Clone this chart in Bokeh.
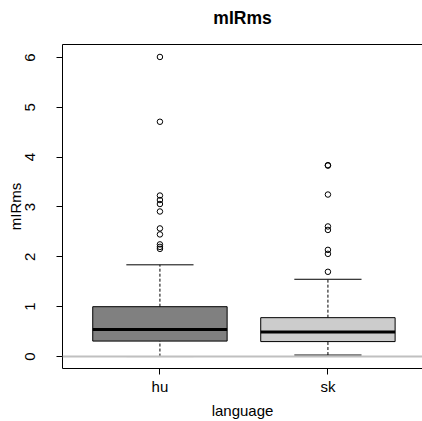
from bokeh.plotting import figure
from bokeh.models import (Range1d, LinearAxis, FixedTicker, Span, ColumnDataSource)
from bokeh.embed import file_html
from bokeh.resources import INLINE

# Box statistics per language
languages = ["hu", "sk"]
q1 = [0.31, 0.30]
medians = [0.54, 0.49]
q3 = [1.00, 0.78]
whisker_low = [0.00, 0.03]
whisker_high = [1.84, 1.55]
box_colors = ["#808080", "#CCCCCC"]

# Points beyond the whiskers
outliers_hu = [6.01, 4.71, 3.23, 3.14, 3.06, 2.91, 2.57, 2.45, 2.25, 2.20, 2.16]
outliers_sk = [3.84, 3.83, 3.25, 2.61, 2.54, 2.14, 2.06, 1.70]

y_ticks = [0, 1, 2, 3, 4, 5, 6]

FONT = "Liberation Sans"
pos = [i + 1 for i in range(len(languages))]
half = 0.4
cap = 0.2

p = figure(width=422, height=421, output_backend="svg", toolbar_location=None,
           x_range=Range1d(0.42, 2.563), y_range=Range1d(-0.24, 6.26),
           x_axis_location=None, y_axis_location=None,
           min_border_left=62, min_border_right=0, min_border_top=44,
           min_border_bottom=52)
p.outline_line_color = None
p.xgrid.visible = False
p.ygrid.visible = False
p.background_fill_color = "white"
p.border_fill_color = "white"

p.title.text = "mIRms"
p.title.align = "center"
p.title.text_font = FONT
p.title.text_font_size = "17.5px"
p.title.text_font_style = "bold"
p.title.text_color = "black"
p.title.standoff = 6

boxes = ColumnDataSource(dict(
    x=pos, left=[x - half for x in pos], right=[x + half for x in pos],
    q1=q1, q3=q3, med=medians, lo=whisker_low, hi=whisker_high,
    cl=[x - cap for x in pos], cr=[x + cap for x in pos], color=box_colors))

# dashed whiskers
p.segment(x0="x", y0="q3", x1="x", y1="hi", source=boxes, line_color="black",
          line_width=1, line_dash="3 2")
p.segment(x0="x", y0="lo", x1="x", y1="q1", source=boxes, line_color="black",
          line_width=1, line_dash="3 2")
# whisker caps
p.segment(x0="cl", y0="hi", x1="cr", y1="hi", source=boxes, line_color="black", line_width=1)
p.segment(x0="cl", y0="lo", x1="cr", y1="lo", source=boxes, line_color="black", line_width=1)
# boxes and medians
p.quad(left="left", right="right", bottom="q1", top="q3", source=boxes,
       fill_color="color", line_color="black", line_width=1)
p.segment(x0="left", y0="med", x1="right", y1="med", source=boxes,
          line_color="black", line_width=3)

ox = [pos[0]] * len(outliers_hu) + [pos[1]] * len(outliers_sk)
oy = outliers_hu + outliers_sk
p.scatter(ox, oy, marker="circle", size=5.5, fill_color=None,
          line_color="black", line_width=1)

p.add_layout(Span(location=0, dimension="width", line_color="#C0C0C0", line_width=2))

yaxis = LinearAxis(ticker=FixedTicker(ticks=y_ticks), axis_label="mIRms")
yaxis.major_label_orientation = "vertical"
yaxis.major_label_text_font = FONT
yaxis.major_label_text_font_size = "15px"
yaxis.axis_label_text_font = FONT
yaxis.axis_label_text_font_size = "15px"
yaxis.axis_label_text_font_style = "normal"
yaxis.major_tick_out = 6
yaxis.major_tick_in = 0
yaxis.minor_tick_out = 0
yaxis.minor_tick_in = 0
yaxis.major_label_standoff = 21
yaxis.axis_label_standoff = -1
p.add_layout(yaxis, "left")

xaxis = LinearAxis(ticker=FixedTicker(ticks=pos), axis_label="language")
xaxis.major_label_overrides = {x: lab for x, lab in zip(pos, languages)}
xaxis.major_label_text_font = FONT
xaxis.major_label_text_font_size = "15px"
xaxis.axis_label_text_font = FONT
xaxis.axis_label_text_font_size = "15px"
xaxis.axis_label_text_font_style = "normal"
xaxis.major_tick_out = 6
xaxis.major_tick_in = 0
xaxis.minor_tick_out = 0
xaxis.minor_tick_in = 0
xaxis.major_label_standoff = 3
xaxis.axis_label_standoff = 4
p.add_layout(xaxis, "below")

# top edge of the plotting box; its blank label leaves room under the title
top = LinearAxis(ticker=FixedTicker(ticks=[]), axis_label=" ")
top.major_tick_out = 0
top.major_tick_in = 0
top.minor_tick_out = 0
top.minor_tick_in = 0
top.major_label_text_font_size = "0px"
top.major_label_standoff = 0
top.axis_label_text_font_size = "1px"
top.axis_label_standoff = 10
p.add_layout(top, "above")

for ax in (yaxis, xaxis, top):
    ax.axis_line_color = "black"
    ax.axis_line_width = 1
    ax.major_tick_line_color = "black"
    ax.major_label_text_color = "black"
    ax.axis_label_text_color = "black"

open("out.html", "w").write(file_html(p, INLINE))
